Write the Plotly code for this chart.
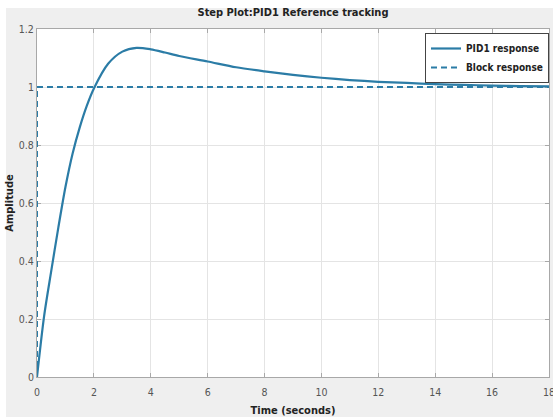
import plotly.graph_objects as go

# PID1 closed-loop step response (time in seconds, amplitude)
time_s = [0, 0.25, 0.5, 0.75, 1.0, 1.25, 1.5, 1.75, 2.0, 2.5, 3.0, 3.5, 4.0, 4.5,
          5.0, 6.0, 7.0, 8.0, 9.0, 10.0, 11.0, 12.0, 13.0, 14.0, 15.0, 16.0, 17.0, 18.0]
pid1_amp = [0, 0.21, 0.365, 0.515, 0.655, 0.77, 0.86, 0.935, 0.995, 1.08, 1.122, 1.135, 1.13, 1.119,
            1.107, 1.088, 1.068, 1.054, 1.042, 1.032, 1.024, 1.018, 1.014, 1.010, 1.007, 1.005, 1.003, 1.002]

# Reference (block) step
block_t = [0, 0, 18]
block_amp = [0, 1, 1]

x_ticks = [0, 2, 4, 6, 8, 10, 12, 14, 16, 18]
y_ticks = [0, 0.2, 0.4, 0.6, 0.8, 1, 1.2]
y_tick_text = ["0", "0.2", "0.4", "0.6", "0.8", "1", "1.2"]

LINE_BLUE = "#2b7ca6"
FONT = "DejaVu Sans Condensed, Liberation Sans Narrow, Liberation Sans, Arial, sans-serif"
BG = "#efefef"

fig = go.Figure()
fig.add_trace(go.Scatter(
    x=time_s, y=pid1_amp, mode="lines", name="<b>PID1 response</b>",
    line=dict(color=LINE_BLUE, width=2.2, shape="spline", smoothing=0.8),
))
fig.add_trace(go.Scatter(
    x=block_t, y=block_amp, mode="lines", name="<b>Block response</b>",
    line=dict(color=LINE_BLUE, width=2, dash="6px,4px"),
))

axis_common = dict(
    showgrid=True, gridcolor="#e4e4e4", gridwidth=1,
    showline=True, linecolor="#a8a8a8", linewidth=1, mirror="ticks",
    ticks="inside", ticklen=4, tickcolor="#a8a8a8",
    zeroline=False, ticklabeloverflow="allow", automargin=False,
    layer="below traces",
    tickfont=dict(family=FONT, size=10.5, color="#555555"),
)

fig.update_layout(
    width=553, height=417,
    margin=dict(l=37, r=4, t=29, b=40, autoexpand=False),
    paper_bgcolor=BG, plot_bgcolor="white",
    title=dict(text="<b>Step Plot:PID1 Reference tracking</b>",
               x=0.5, xref="paper", y=1 - 12 / 417, yanchor="middle",
               font=dict(family=FONT, size=11, color="#222222")),
    xaxis=dict(range=[0, 18], tickvals=x_ticks, ticklabelstandoff=5,
               title=dict(text="<b>Time (seconds)</b>", standoff=9,
                          font=dict(family=FONT, size=11, color="#222222")),
               **axis_common),
    yaxis=dict(range=[0, 1.2], tickvals=y_ticks, ticktext=y_tick_text,
               title=dict(text="<b>Amplitude</b>", standoff=3,
                          font=dict(family=FONT, size=11, color="#222222")),
               **axis_common),
    legend=dict(x=1, xanchor="right", y=1 - 4 / 348, yanchor="top",
                bgcolor="white", bordercolor="#444444", borderwidth=1,
                font=dict(family=FONT, size=10, color="#222222"),
                itemwidth=30, tracegroupgap=0),
    showlegend=True,
)

# white frame strips around the grey figure panel (left and top edges)
fig.add_shape(type="rect", xref="paper", yref="paper",
              x0=-37 / 512, x1=-31 / 512, y0=-40 / 348, y1=1 + 29 / 348,
              fillcolor="white", line_width=0, layer="below")
fig.add_shape(type="rect", xref="paper", yref="paper",
              x0=-37 / 512, x1=1 + 4 / 512, y0=1 + 21 / 348, y1=1 + 29 / 348,
              fillcolor="white", line_width=0, layer="below")

fig.write_html("out.html")
